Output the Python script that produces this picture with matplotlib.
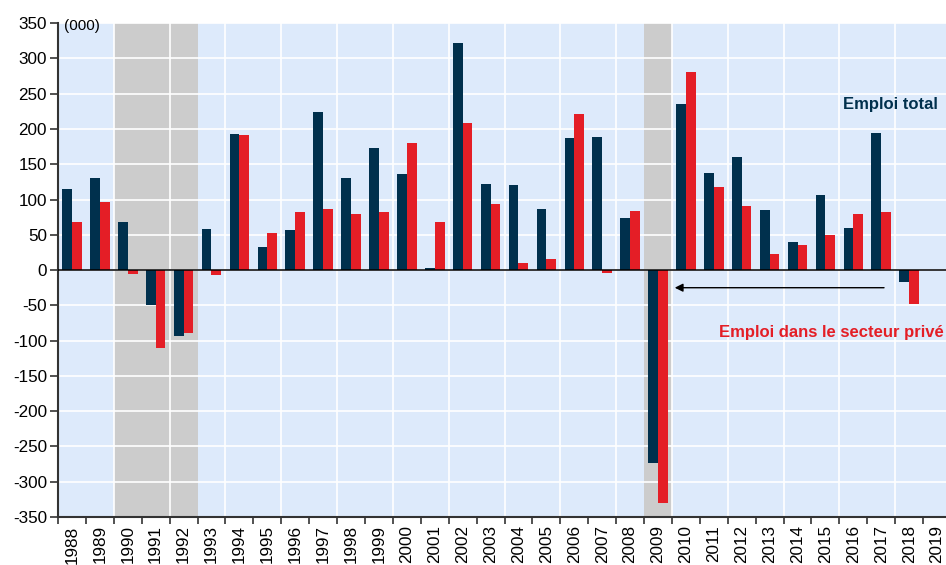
import numpy as np
import matplotlib.pyplot as plt

plt.rcParams['font.family'] = ['Liberation Sans', 'DejaVu Sans']

years = np.arange(1988, 2020)
# yearly change, thousands of jobs (2019 not yet available)
total = [115, 130, 68, -49, -93, 58, 193, 33, 57, 224, 131, 173, 136, 3, 322, 122,
         120, 87, 187, 189, 74, -273, 236, 138, 160, 85, 40, 106, 60, 195, -17, np.nan]
private = [68, 96, -5, -110, -89, -7, 191, 52, 83, 86, 80, 82, 180, 68, 208, 94,
           10, 15, 221, -4, 84, -330, 281, 118, 91, 23, 35, 50, 80, 82, -48, np.nan]
recessions = [(1990, 1993), (2009, 2010)]
yticks = np.arange(-350, 351, 50)

navy = '#00304d'
red = '#e41e26'

fig = plt.figure(figsize=(9.46, 5.65), dpi=100)
ax = fig.add_axes([0.0613, 0.085, 0.944, 0.874])
ax.set_facecolor('#ddeafb')

for start, end in recessions:
    ax.axvspan(start, end, color='#cccccc', zorder=0.2, lw=0)

w = 0.35
ax.bar(years + 0.5 - w / 2, total, width=w, color=navy, zorder=2)
ax.bar(years + 0.5 + w / 2, private, width=w, color=red, zorder=2)
ax.axhline(0, color='black', lw=1.1, zorder=3)

ax.set_xlim(1988, 2020)
ax.set_ylim(-350, 350)
ax.set_yticks(yticks)
ax.set_yticklabels([str(v) for v in yticks], fontsize=12.3)

ax.set_xticks(years)
ax.set_xticklabels([])
ax.set_xticks(years + 0.5, minor=True)
ax.set_xticklabels([str(y) for y in years], minor=True, rotation=90, fontsize=12.3)
ax.tick_params(axis='x', which='minor', length=0, pad=6)
ax.tick_params(axis='x', which='major', length=5, width=1.2, color='#333333')
ax.tick_params(axis='y', length=6, width=1.2, color='#333333', pad=2)

ax.set_axisbelow(True)
ax.yaxis.grid(True, color='white', lw=1.2)
for yr in years[::2]:
    ax.axvline(yr, color='white', lw=1.2, zorder=0.5)

for side in ['top', 'right']:
    ax.spines[side].set_visible(False)
for side in ['left', 'bottom']:
    ax.spines[side].set_color('#333333')
    ax.spines[side].set_linewidth(1.5)

ax.text(1988.2, 346, '(000)', fontsize=11, va='center', ha='left')
ax.text(2016.14, 234, 'Emploi total', color=navy, fontsize=12,
        fontweight='bold', va='center', ha='left')
ax.text(2011.7, -88, 'Emploi dans le secteur privé', color=red, fontsize=12,
        fontweight='bold', va='center', ha='left')
ax.annotate('', xy=(2010.1, -25), xytext=(2017.6, -25),
            arrowprops=dict(arrowstyle='-|>', color='black', lw=1.0,
                            mutation_scale=12, shrinkA=0, shrinkB=0))

fig.savefig('out.png', dpi=100)
